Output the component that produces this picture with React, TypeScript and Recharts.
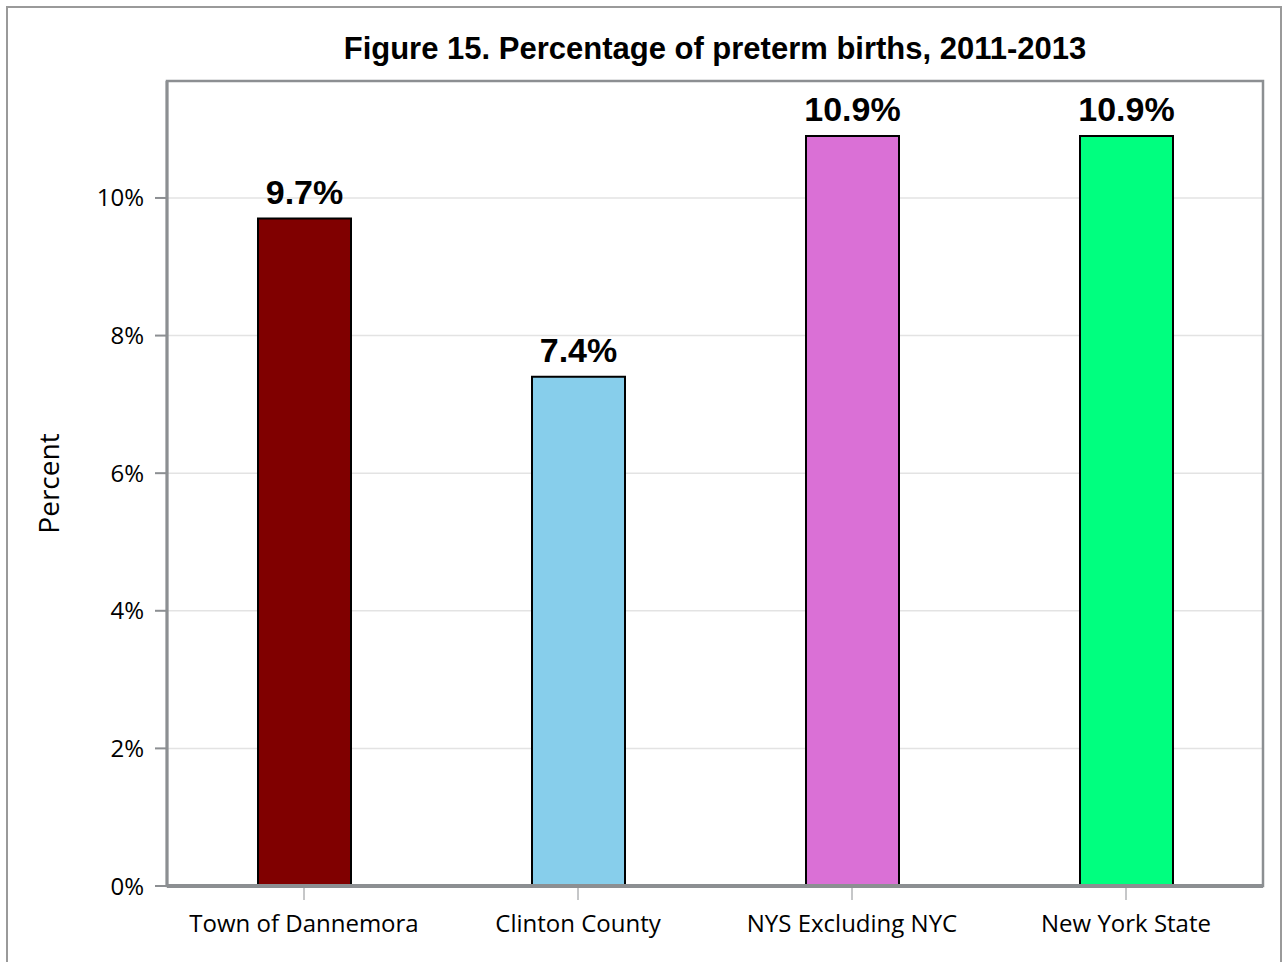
import React from "react";
import { BarChart, Bar, XAxis, YAxis, CartesianGrid, Cell, LabelList, ReferenceArea } from "recharts";

// Figure 15 data
const places = ["Town of Dannemora", "Clinton County", "NYS Excluding NYC", "New York State"];
const pretermPct = [9.7, 7.4, 10.9, 10.9];
const barColors = ["#800000", "#87CEEB", "#DA70D6", "#00FF7F"];
const yTicks = [0, 2, 4, 6, 8, 10];
const yMax = 11.7;

const chartData = places.map((p, i) => ({ place: p, value: pretermPct[i] }));

const frameGray = "#8c8f92";
const axisFont = "'Open Sans', 'DejaVu Sans', sans-serif";

export default function App() {
    return (
        <div style={{ position: "absolute", left: 0, top: 0, width: 1286, height: 962, background: "#fff" }}>
            {/* outer border */}
            <div style={{ position: "absolute", left: 6, top: 6, width: 1276, height: 970, border: "2px solid #9a9a9a", boxSizing: "border-box" }} />
            <div style={{
                position: "absolute", left: 167, width: 1096, top: 31, textAlign: "center",
                fontFamily: "'Liberation Sans', Arial, sans-serif", fontWeight: "bold", fontSize: 31, color: "#000"
            }}>
                Figure 15. Percentage of preterm births, 2011-2013
            </div>
            <div style={{ position: "absolute", left: 0, top: 0 }}>
                <BarChart
                    width={1286}
                    height={962}
                    data={chartData}
                    margin={{ top: 81, right: 23, left: 27, bottom: 36 }}
                >
                    <CartesianGrid vertical={false} stroke="#e3e3e3" strokeWidth={1.5} />
                    <ReferenceArea y1={0} y2={yMax} fill="none" stroke={frameGray} strokeWidth={2.5} />
                    <XAxis
                        dataKey="place"
                        tickLine={{ stroke: frameGray, strokeWidth: 1 }}
                        tickSize={14}
                        tickMargin={15}
                        axisLine={{ stroke: frameGray, strokeWidth: 4 }}
                        tick={{ fill: "#000", fontSize: 24, fontFamily: axisFont }}
                        height={40}
                        interval={0}
                    />
                    <YAxis
                        domain={[0, yMax]}
                        ticks={yTicks}
                        tickFormatter={(v: number) => `${v}%`}
                        tickLine={{ stroke: frameGray, strokeWidth: 2 }}
                        tickSize={12}
                        tickMargin={11}
                        axisLine={{ stroke: frameGray, strokeWidth: 3 }}
                        tick={{ fill: "#000", fontSize: 24, fontFamily: axisFont }}
                        width={140}
                        label={{
                            value: "Percent", angle: -90, position: "insideLeft", offset: 22,
                            style: { fill: "#000", fontSize: 28, fontFamily: axisFont, textAnchor: "middle" }
                        }}
                    />
                    <Bar dataKey="value" barSize={93} stroke="#000" strokeWidth={2} isAnimationActive={false}>
                        {chartData.map((d, i) => (
                            <Cell key={d.place} fill={barColors[i]} />
                        ))}
                        <LabelList
                            dataKey="value"
                            position="top"
                            offset={15}
                            formatter={(v: any) => `${Number(v).toFixed(1)}%`}
                            style={{ fill: "#000", fontSize: 34, fontWeight: "bold", fontFamily: "'Liberation Sans', Arial, sans-serif" }}
                        />
                    </Bar>
                </BarChart>
            </div>
        </div>
    );
}
